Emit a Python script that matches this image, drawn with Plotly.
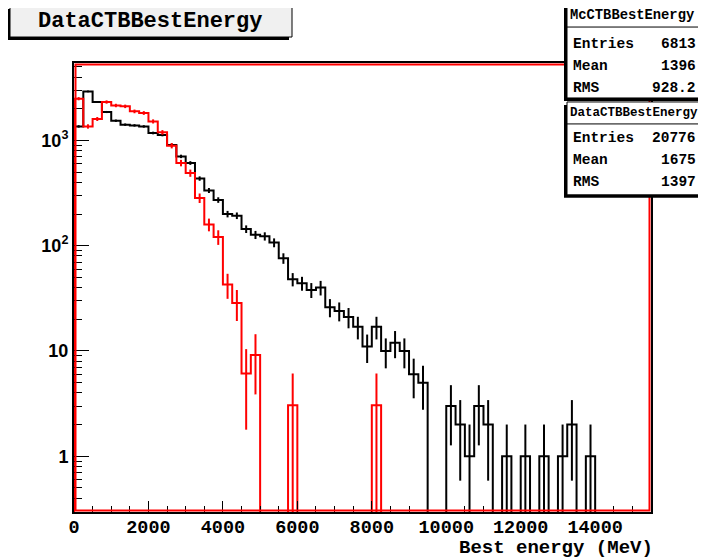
import numpy as np
import plotly.graph_objects as go

# bin layout: 62 bins of 250 MeV from 0 to 15500
bin_width = 250
n_bins = 62

# DataCTBBestEnergy (black), counts per bin
data_counts = [
    1360, 2925, 2320, 1864, 1541, 1413, 1391, 1360, 1178, 1128,
    905, 706, 611, 435, 335, 272, 200, 193, 144, 127,
    123, 107, 76, 48, 44, 38, 40, 26, 24, 21,
    17, 11, 17, 10, 12, 10, 6, 5, 0, 0,
    3, 2, 1, 3, 2, 0, 1, 0, 1, 0,
    1, 0, 1, 2, 0, 1, 0, 0, 0, 0,
    0, 0,
]

# McCTBBestEnergy (red), normalised to the data entries
mc_counts = [
    2495, 1360, 1600, 2320, 2150, 2110, 1890, 1825, 1518, 1194,
    893, 611, 490, 284, 159, 121, 42.7, 28.6, 6.1, 9.15,
    0, 0, 0, 3.05, 0, 0, 0, 0, 0, 0,
    0, 0, 3.05, 0, 0, 0, 0, 0, 0, 0,
    0, 0, 0, 0, 0, 0, 0, 0, 0, 0,
    0, 0, 0, 0, 0, 0, 0, 0, 0, 0,
    0, 0,
]

mc_stats = [("Entries", "6813"), ("Mean", "1396"), ("RMS", "928.2")]
data_stats = [("Entries", "20776"), ("Mean", "1675"), ("RMS", "1397")]
mc_scale = 20776 / 6813

x_ticks = [0, 2000, 4000, 6000, 8000, 10000, 12000, 14000]
y_tickvals = [1, 10, 100, 1000]
y_ticktext = ["1", "10", "10<sup>2</sup>", "10<sup>3</sup>"]
y_minor = [m * 10 ** e for e in range(-1, 4) for m in range(2, 10)]

y_log_range = [-0.53, 3.736]
floor = 0.05  # zero bins are pushed below the visible range

edges = np.arange(n_bins + 1) * bin_width
centers = edges[:-1] + bin_width / 2

# plot area in page pixels (706x560 window, page body has an 8px margin)
OFF = 8
L, R, T, B = 74, 651, 63, 512.5
W, H = R - L, B - T


def fx(px):
    return (px - L) / W


def fy(py):
    return (B - py) / H


def step_trace(values, color):
    vals = [v if v > 0 else floor for v in values]
    xs = [0] + list(edges[:-1]) + [edges[-1]]
    ys = [floor] + vals + [floor]
    return go.Scatter(x=xs, y=ys, mode="lines", line=dict(color=color, width=2, shape="hv"),
                      hoverinfo="skip", showlegend=False)


def error_trace(values, errors, color):
    xs, ys, up, down = [], [], [], []
    for c, v, e in zip(centers, values, errors):
        if v <= 0:
            continue
        xs.append(c)
        ys.append(v)
        up.append(e)
        down.append(min(e, v - 0.01))
    return go.Scatter(
        x=xs, y=ys, mode="markers", marker=dict(size=1, color=color, opacity=0),
        error_y=dict(type="data", symmetric=False, array=up, arrayminus=down,
                     color=color, thickness=2, width=0),
        hoverinfo="skip", showlegend=False,
    )


data_err = [np.sqrt(v) for v in data_counts]
mc_err = [np.sqrt(v * mc_scale) for v in mc_counts]

fig = go.Figure()
fig.add_trace(step_trace(data_counts, "black"))
fig.add_trace(error_trace(data_counts, data_err, "black"))
fig.add_trace(step_trace(mc_counts, "red"))
fig.add_trace(error_trace(mc_counts, mc_err, "red"))

mono = "Liberation Mono, Courier New, monospace"
shapes = []
annotations = []

# red inner frame
shapes.append(dict(type="rect", xref="paper", yref="paper", x0=fx(L + 1.5), x1=fx(R - 1.5),
                   y0=fy(B - 1.5), y1=fy(T + 1.5), line=dict(color="red", width=2), layer="above"))


def text(px, py, s, size, anchor="center"):
    annotations.append(dict(x=fx(px), y=fy(py), xref="paper", yref="paper", showarrow=False,
                            xanchor=anchor, yanchor="middle", text=f"<b>{s}</b>", borderpad=0,
                            font=dict(family=mono, size=size, color="black")))


def box(x0, y0, x1, y1, fill):
    # shadow offset to the lower left, then the box itself
    shapes.append(dict(type="rect", xref="paper", yref="paper", x0=fx(x0 - 3), x1=fx(x1 - 3),
                       y0=fy(y1 + 3), y1=fy(y0 + 3), fillcolor="black",
                       line=dict(width=0), layer="above"))
    shapes.append(dict(type="rect", xref="paper", yref="paper", x0=fx(x0), x1=fx(x1),
                       y0=fy(y1), y1=fy(y0), fillcolor=fill,
                       line=dict(color="black", width=1), layer="above"))


# title box
box(10, 6, 292, 37, "#f0f0f0")
text(150, 21.5, "DataCTBBestEnergy", 22)


def stats_box(top, bottom, sep, first_row, name, rows, name_size):
    box(567, top, 712, bottom, "white")
    shapes.append(dict(type="line", xref="paper", yref="paper", x0=fx(567), x1=fx(712),
                       y0=fy(sep), y1=fy(sep), line=dict(color="black", width=1), layer="above"))
    text(568.5, (top + sep) / 2, name, name_size, "left")
    for i, (label, value) in enumerate(rows):
        yy = first_row + i * 22
        text(572, yy, label, 14.5, "left")
        text(697, yy, value, 14.5, "right")


stats_box(3, 98, 27, 44, "McCTBBestEnergy", mc_stats, 13.8)
stats_box(102, 195, 124, 138, "DataCTBBestEnergy", data_stats, 12.5)

text(R + 3, 549, "Best energy (MeV)", 19, "right")

fig.update_layout(
    width=706 - OFF,
    height=560 - OFF,
    margin=dict(l=L - OFF, r=706 - R, t=T - OFF, b=560 - B),
    paper_bgcolor="white",
    plot_bgcolor="white",
    shapes=shapes,
    annotations=annotations,
    xaxis=dict(
        range=[0, n_bins * bin_width],
        tickvals=x_ticks,
        ticktext=[str(t) for t in x_ticks],
        ticks="inside",
        ticklen=11,
        tickwidth=1,
        tickcolor="black",
        ticklabelstandoff=-3,
        minor=dict(ticks="inside", ticklen=6, dtick=500, tickcolor="black", showgrid=False),
        showgrid=False,
        zeroline=False,
        showline=True,
        linecolor="black",
        linewidth=2,
        mirror=True,
        tickfont=dict(family=mono, size=18.5, color="black", weight="bold"),
    ),
    yaxis=dict(
        type="log",
        range=y_log_range,
        tickvals=y_tickvals,
        ticktext=y_ticktext,
        ticks="inside",
        ticklen=15,
        tickwidth=1,
        tickcolor="black",
        minor=dict(ticks="inside", ticklen=8, tickmode="array", tickvals=y_minor,
                   tickcolor="black", showgrid=False),
        showgrid=False,
        zeroline=False,
        showline=True,
        linecolor="black",
        linewidth=2,
        mirror=True,
        tickfont=dict(family="Liberation Sans, Arial, sans-serif", size=18, color="black", weight="bold"),
    ),
)

fig.write_html("out.html")
